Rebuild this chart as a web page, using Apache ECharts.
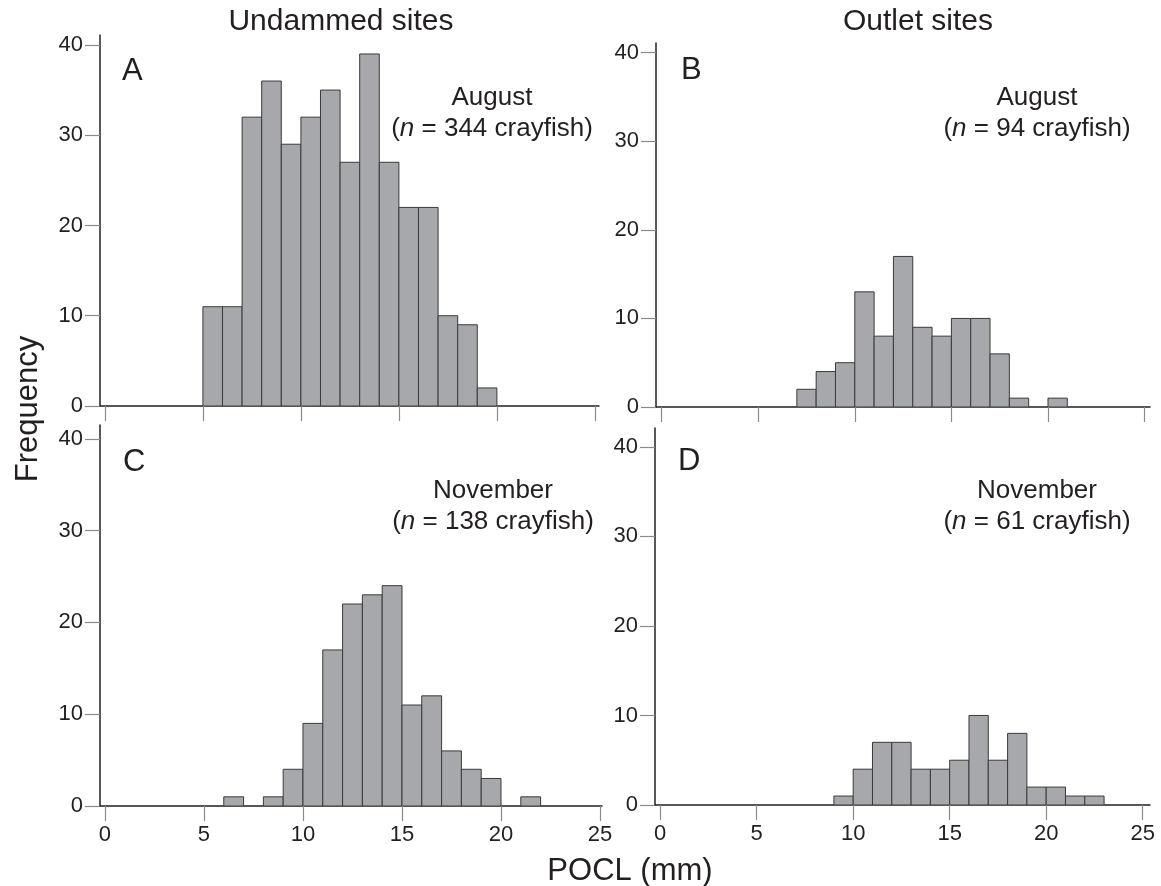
<!DOCTYPE html>
<html>
<head>
<meta charset="utf-8">
<title>POCL histograms</title>
<script src="https://cdn.jsdelivr.net/npm/echarts@6/dist/echarts.min.js"></script>
<style>
  html, body { margin: 0; padding: 0; background: #fff; }
  #main { width: 1161px; height: 886px; }
</style>
</head>
<body>
<div id="main"></div>
<script>
// bin lower edges (mm) and frequencies, 1 mm bins
var binsA = [5, 6, 7, 8, 9, 10, 11, 12, 13, 14, 15, 16, 17, 18, 19];
var countsA = [11, 11, 32, 36, 29, 32, 35, 27, 39, 27, 22, 22, 10, 9, 2];
var binsB = [7, 8, 9, 10, 11, 12, 13, 14, 15, 16, 17, 18, 19, 20];
var countsB = [2, 4, 5, 13, 8, 17, 9, 8, 10, 10, 6, 1, 0, 1];
var binsC = [6, 7, 8, 9, 10, 11, 12, 13, 14, 15, 16, 17, 18, 19, 20, 21];
var countsC = [1, 0, 1, 4, 9, 17, 22, 23, 24, 11, 12, 6, 4, 3, 0, 1];
var binsD = [9, 10, 11, 12, 13, 14, 15, 16, 17, 18, 19, 20, 21, 22];
var countsD = [1, 4, 7, 7, 4, 4, 5, 10, 5, 8, 2, 2, 1, 1];
var xTicks = [0, 5, 10, 15, 20, 25];
var yTicks = [0, 10, 20, 30, 40];
var panelLetters = ['A', 'B', 'C', 'D'];
var months = ['August', 'August', 'November', 'November'];
var sampleSizes = [344, 94, 138, 61];

var FONT = '"Liberation Sans", Arial, Helvetica, sans-serif';
var INK = '#231f20';

var chart = echarts.init(document.getElementById('main'), null, {renderer: 'canvas'});

function pairs(bins, counts) {
  var out = [];
  for (var i = 0; i < bins.length; i++) {
    if (counts[i] > 0) out.push([bins[i], counts[i]]);
  }
  return out;
}

function renderBar(params, api) {
  var x0 = api.value(0);
  var n = api.value(1);
  var p0 = api.coord([x0, 0]);
  var p1 = api.coord([x0 + 1, n]);
  return {
    type: 'rect',
    shape: {x: p0[0], y: p1[1], width: p1[0] - p0[0], height: p0[1] - p1[1]},
    style: {fill: '#a7a8ac', stroke: '#3a3a3a', lineWidth: 1}
  };
}

var grids = [
  {left: 100, top: 35, width: 499, height: 371},
  {left: 656, top: 43, width: 494, height: 364},
  {left: 100, top: 425, width: 502, height: 381},
  {left: 655, top: 428, width: 495, height: 377}
];
var xRanges = [[-0.25, 25.21], [-0.29, 25.28], [-0.25, 25.1], [-0.27, 25.38]];
var yMax = [41.1, 41.1, 41.5, 42.1];
var showXLabels = [false, false, true, true];

var xAxes = [], yAxes = [], series = [];
var allData = [pairs(binsA, countsA), pairs(binsB, countsB), pairs(binsC, countsC), pairs(binsD, countsD)];

for (var i = 0; i < 4; i++) {
  xAxes.push({
    type: 'value', gridIndex: i, min: xRanges[i][0], max: xRanges[i][1],
    axisLine: {show: true, onZero: false, lineStyle: {color: INK, width: 1.5}},
    axisTick: {show: true, length: 15, customValues: xTicks, lineStyle: {color: '#8a8a8a', width: 1.2}},
    axisLabel: {show: showXLabels[i], customValues: xTicks, margin: 18, fontFamily: FONT, fontSize: 22, color: INK},
    splitLine: {show: false}
  });
  yAxes.push({
    type: 'value', gridIndex: i, min: 0, max: yMax[i],
    axisLine: {show: true, onZero: false, lineStyle: {color: INK, width: 1.5}},
    axisTick: {show: true, length: 15, customValues: yTicks, lineStyle: {color: '#8a8a8a', width: 1.2}},
    axisLabel: {show: true, customValues: yTicks, margin: 17, fontFamily: FONT, fontSize: 22, color: INK},
    splitLine: {show: false}
  });
  series.push({
    type: 'custom', xAxisIndex: i, yAxisIndex: i,
    renderItem: renderBar, data: allData[i], clip: true
  });
}

// panel text positions
var letterPos = [[122, 71], [681, 70], [123, 462], [678, 461]];
var notePos = [[492, 98], [1037, 98], [493, 491], [1037, 491]];
var graphics = [
  {type: 'text', x: 341, y: 22, style: {text: 'Undammed sites', font: '30px ' + FONT, fill: INK, textAlign: 'center', textVerticalAlign: 'middle'}},
  {type: 'text', x: 918, y: 22, style: {text: 'Outlet sites', font: '30px ' + FONT, fill: INK, textAlign: 'center', textVerticalAlign: 'middle'}},
  {type: 'text', x: 630, y: 871, style: {text: 'POCL (mm)', font: '31px ' + FONT, fill: INK, textAlign: 'center', textVerticalAlign: 'middle'}},
  {type: 'text', x: 28, y: 409, rotation: Math.PI / 2, style: {text: 'Frequency', font: '31px ' + FONT, fill: INK, textAlign: 'center', textVerticalAlign: 'middle'}}
];
for (var k = 0; k < 4; k++) {
  graphics.push({type: 'text', x: letterPos[k][0], y: letterPos[k][1],
    style: {text: panelLetters[k], font: '31px ' + FONT, fill: INK, textAlign: 'left', textVerticalAlign: 'middle'}});
  graphics.push({type: 'text', x: notePos[k][0], y: notePos[k][1],
    style: {text: months[k], font: '26px ' + FONT, fill: INK, textAlign: 'center', textVerticalAlign: 'middle'}});
  graphics.push({type: 'text', x: notePos[k][0], y: notePos[k][1] + 31,
    style: {
      text: '({n|n} = ' + sampleSizes[k] + ' crayfish)',
      font: '26px ' + FONT, fill: INK, textAlign: 'center', textVerticalAlign: 'middle',
      rich: {n: {fontStyle: 'italic', fontFamily: FONT, fontSize: 26, fill: INK}}
    }});
}

chart.setOption({
  backgroundColor: '#fff',
  animation: false,
  grid: grids,
  xAxis: xAxes,
  yAxis: yAxes,
  series: series,
  graphic: graphics
});
</script>
</body>
</html>
